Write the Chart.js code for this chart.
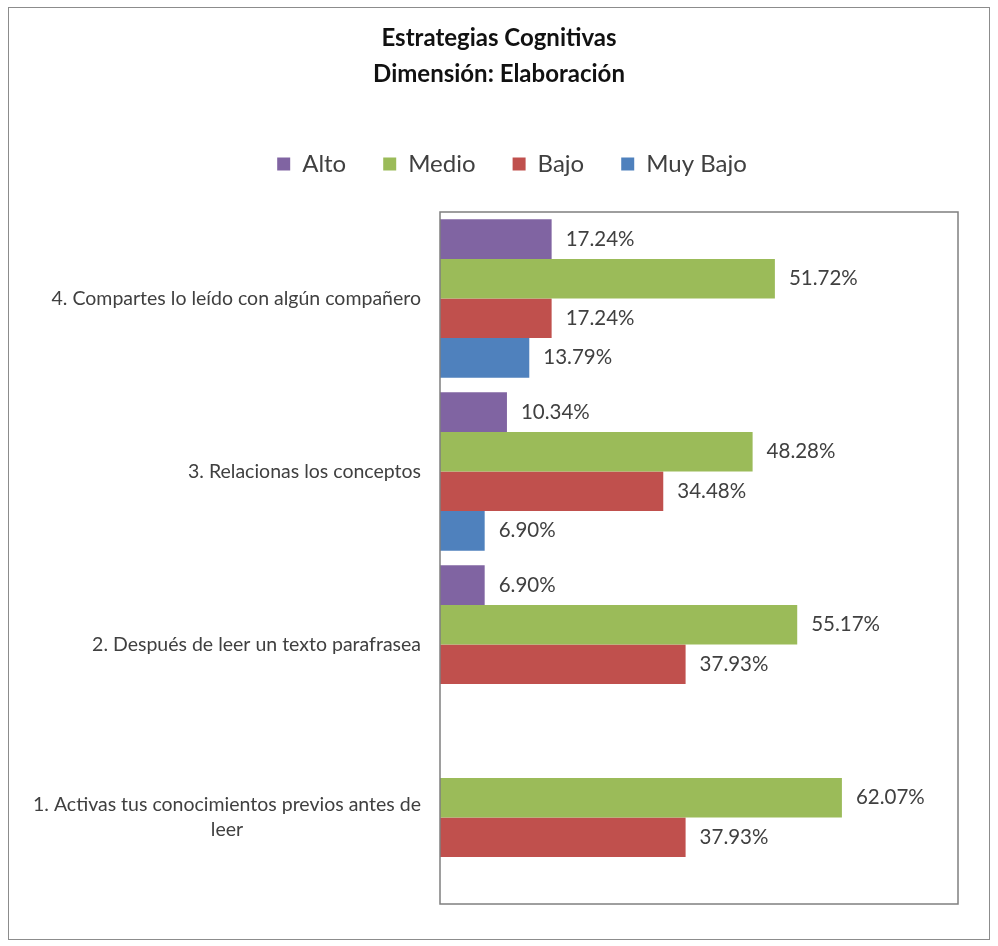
<!DOCTYPE html>
<html>
<head>
<meta charset="utf-8">
<script src="https://cdn.jsdelivr.net/npm/chart.js@4"></script>
<style>
  body { margin: 0; background: #fff; }
  #frame { position: absolute; left: 8px; top: 7px; width: 982px; height: 933px; border: 1px solid #8c8c8c; box-sizing: border-box; }
  #chart { display: block; }
</style>
</head>
<body>
<div id="frame"><canvas id="chart"></canvas></div>
<script>
const categories = [
    '4. Compartes lo leído con algún compañero',
    '3. Relacionas los conceptos',
    '2. Después de leer un texto parafrasea',
    ['1. Activas tus conocimientos previos antes de', 'leer']
];
const alto = [17.24, 10.34, 6.90, null];
const medio = [51.72, 48.28, 55.17, 62.07];
const bajo = [17.24, 34.48, 37.93, 37.93];
const muyBajo = [13.79, 6.90, null, null];

const FONT = 'Lato, "Open Sans", sans-serif';

// etiquetas de categoria: alineadas a la derecha, lineas centradas entre si
const categoryLabels = {
    id: 'categoryLabels',
    afterDraw(chart) {
        const ctx = chart.ctx;
        const y = chart.scales.y;
        ctx.save();
        ctx.font = '19.5px ' + FONT;
        ctx.fillStyle = '#404040';
        ctx.textAlign = 'center';
        ctx.textBaseline = 'middle';
        categories.forEach((lab, i) => {
            const lines = Array.isArray(lab) ? lab : [lab];
            const w = Math.max(...lines.map(l => ctx.measureText(l).width));
            const cx = y.right - 19 - w / 2;
            const cy = y.getPixelForValue(i);
            const lh = 25;
            lines.forEach((l, k) => {
                ctx.fillText(l, cx, cy + (k - (lines.length - 1) / 2) * lh);
            });
        });
        ctx.restore();
    }
};

const valueLabels = {
    id: 'valueLabels',
    afterDatasetsDraw(chart) {
        const ctx = chart.ctx;
        ctx.save();
        ctx.font = '20.5px ' + FONT;
        ctx.fillStyle = '#404040';
        ctx.textAlign = 'left';
        ctx.textBaseline = 'middle';
        chart.data.datasets.forEach((ds, di) => {
            chart.getDatasetMeta(di).data.forEach((bar, i) => {
                const v = ds.data[i];
                if (v === null) return;
                ctx.fillText(v.toFixed(2) + '%', bar.x + 14, bar.y);
            });
        });
        ctx.restore();
    }
};

const plotBorder = {
    id: 'plotBorder',
    afterDraw(chart) {
        const a = chart.chartArea;
        const ctx = chart.ctx;
        ctx.save();
        ctx.strokeStyle = '#7f7f7f';
        ctx.lineWidth = 1.5;
        ctx.strokeRect(a.left, a.top, a.right - a.left, a.bottom - a.top);
        ctx.restore();
    }
};

// espacio extra bajo la leyenda y leve desplazamiento a la derecha
const legendGap = {
    id: 'legendGap',
    beforeInit(chart) {
        const fit = chart.legend.fit;
        chart.legend.fit = function() {
            fit.bind(chart.legend)();
            this.height += 26;
        };
    },
    afterLayout(chart) {
        chart.legend.left += 13;
        chart.legend.right += 13;
    }
};

const canvas = document.getElementById('chart');
canvas.width = 980;
canvas.height = 931;

new Chart(canvas, {
    type: 'bar',
    data: {
        labels: categories,
        datasets: [
            { label: 'Alto', data: alto, backgroundColor: '#8064A2' },
            { label: 'Medio', data: medio, backgroundColor: '#9BBB59' },
            { label: 'Bajo', data: bajo, backgroundColor: '#C0504D' },
            { label: 'Muy Bajo', data: muyBajo, backgroundColor: '#4F81BD' }
        ]
    },
    options: {
        indexAxis: 'y',
        responsive: false,
        animation: false,
        layout: { padding: { left: 31, right: 31, bottom: 35, top: 0 } },
        datasets: { bar: { categoryPercentage: 0.915, barPercentage: 1 } },
        scales: {
            x: {
                min: 0,
                max: 80,
                display: false,
                grid: { display: false }
            },
            y: {
                grid: { display: false },
                border: { display: false },
                ticks: { display: false },
                afterFit(scale) { scale.width = 400; }
            }
        },
        plugins: {
            title: {
                display: true,
                text: ['Estrategias Cognitivas', 'Dimensión: Elaboración'],
                font: { family: FONT, size: 24, weight: 'bold', lineHeight: 1.5 },
                color: '#111',
                padding: { top: 12, bottom: 23 }
            },
            legend: {
                position: 'top',
                labels: {
                    font: { family: FONT, size: 24 },
                    color: '#404040',
                    boxWidth: 13,
                    boxHeight: 13,
                    padding: 37
                }
            },
            tooltip: { enabled: false }
        }
    },
    plugins: [legendGap, plotBorder, valueLabels, categoryLabels]
});
</script>
</body>
</html>
